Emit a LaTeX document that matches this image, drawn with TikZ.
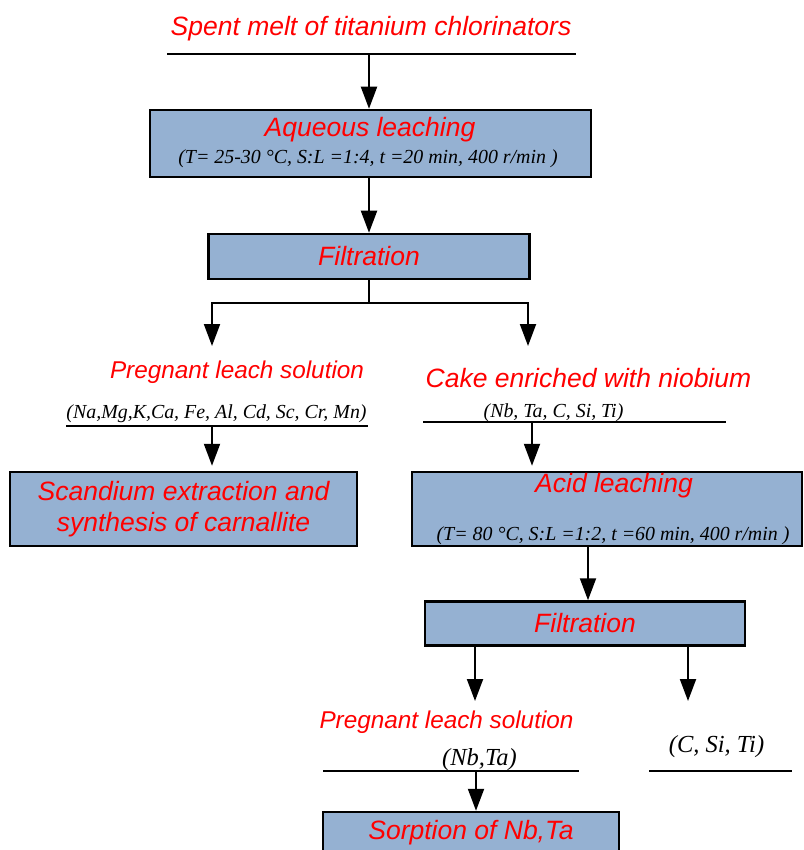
\documentclass[tikz,border=0pt]{standalone}
\usepackage{fontspec}
\setmainfont{Liberation Serif}
\setsansfont{Liberation Sans}
\usetikzlibrary{arrows.meta}
\definecolor{boxblue}{RGB}{149,177,210}
\tikzset{
  stepbox/.style={draw, line width=2.5pt, fill=boxblue, inner sep=0pt,
    text=red, font=\sffamily\itshape\fontsize{26.5}{31}\selectfont, align=center},
  redtxt/.style={text=red, font=\sffamily\itshape\fontsize{26.5}{31}\selectfont,
    inner sep=0pt, anchor=base},
  smallred/.style={redtxt, font=\sffamily\itshape\fontsize{24.3}{29}\selectfont},
  partxt/.style={font=\itshape\fontsize{19.9}{24}\selectfont, inner sep=0pt, anchor=base},
  bigpartxt/.style={partxt, font=\itshape\fontsize{24.5}{28}\selectfont},
  bar/.style={line width=2pt},
  arr/.style={line width=2pt, -{Triangle[width=16pt,length=22pt]}},
}
\begin{document}
\begin{tikzpicture}[x=1pt, y=-1pt]
\clip (0,0) rectangle (803,850);

% feed
\node[redtxt] (feed) at (371,36) {Spent melt of titanium chlorinators};
\coordinate (bar1l) at (167,54);
\coordinate (bar1r) at (576,54);
\draw[bar] (bar1l) -- (bar1r);

% aqueous leaching
\node[stepbox, minimum width=441pt, minimum height=67pt] (aq) at (370.5,143.5) {};
\node[redtxt] (aqname) at (370,137) {Aqueous leaching};
\node[partxt] (aqcond) at (368,164) {(T= 25-30 °C, S:L =1:4, t =20 min, 400 r/min )};
\draw[arr] (369,0 |- bar1l) -- (369,0 |- aq.north);

% first filtration
\node[stepbox, minimum width=321pt, minimum height=45pt] (filt1) at (369,256.5) {Filtration};
\draw[arr] (filt1.north |- aq.south) -- (filt1.north);
\coordinate (split1) at (369,303);
\coordinate (tip1) at (212,346);
\coordinate (tip2) at (528,346);
\draw[bar] (filt1.south) -- (split1);
\draw[arr] (split1) -| (tip1);
\draw[arr] (split1) -| (tip2);

% solution branch
\node[smallred] (pls1) at (237,378) {Pregnant leach solution};
\node[partxt] (pls1el) at (216.5,418) {(Na,Mg,K,Ca, Fe, Al, Cd, Sc, Cr, Mn)};
\coordinate (bar2l) at (66,426);
\coordinate (bar2r) at (368,426);
\draw[bar] (bar2l) -- (bar2r);
\node[stepbox, minimum width=347pt, minimum height=74pt] (scand) at (183.5,509)
  {Scandium extraction and\\synthesis of carnallite};
\draw[arr, shorten >=5pt] (bar2l -| 212,0) -- (212,0 |- scand.north);

% cake branch
\node[redtxt] (cake) at (588.5,387) {Cake enriched with niobium};
\node[partxt] (cakeel) at (553.5,417) {(Nb, Ta, C, Si, Ti)};
\coordinate (bar3l) at (423,422);
\coordinate (bar3r) at (726,422);
\draw[bar] (bar3l) -- (bar3r);
\node[stepbox, minimum width=390pt, minimum height=74pt] (acid) at (607,509) {};
\node[redtxt] (acidname) at (614,492) {Acid leaching};
\node[partxt] (acidcond) at (613,540) {(T= 80 °C, S:L =1:2, t =60 min, 400 r/min )};
\draw[arr, shorten >=5pt] (bar3l -| 532,0) -- (532,0 |- acid.north);

% second filtration
\node[stepbox, minimum width=320pt, minimum height=44pt] (filt2) at (585,623.5) {Filtration};
\draw[arr] (acid.south -| 588,0) -- (588,0 |- filt2.north);
\coordinate (tip3) at (475,701);
\coordinate (tip4) at (688,701);
\draw[arr] (filt2.south -| tip3) -- (tip3);
\draw[arr] (filt2.south -| tip4) -- (tip4);

\node[smallred] (pls2) at (446.5,728) {Pregnant leach solution};
\node[bigpartxt] (pls2el) at (479.5,765) {(Nb,Ta)};
\coordinate (bar4l) at (323,771);
\coordinate (bar4r) at (579,771);
\draw[bar] (bar4l) -- (bar4r);
\node[bigpartxt] (resid) at (716.5,752) {(C, Si, Ti)};
\coordinate (bar5l) at (649,771);
\coordinate (bar5r) at (792,771);
\draw[bar] (bar5l) -- (bar5r);

% sorption
\node[stepbox, minimum width=296pt, minimum height=42pt] (sorp) at (471,833) {Sorption of Nb,Ta};
\draw[arr] (476,0 |- bar4l) -- (476,0 |- sorp.north);

\end{tikzpicture}
\end{document}
